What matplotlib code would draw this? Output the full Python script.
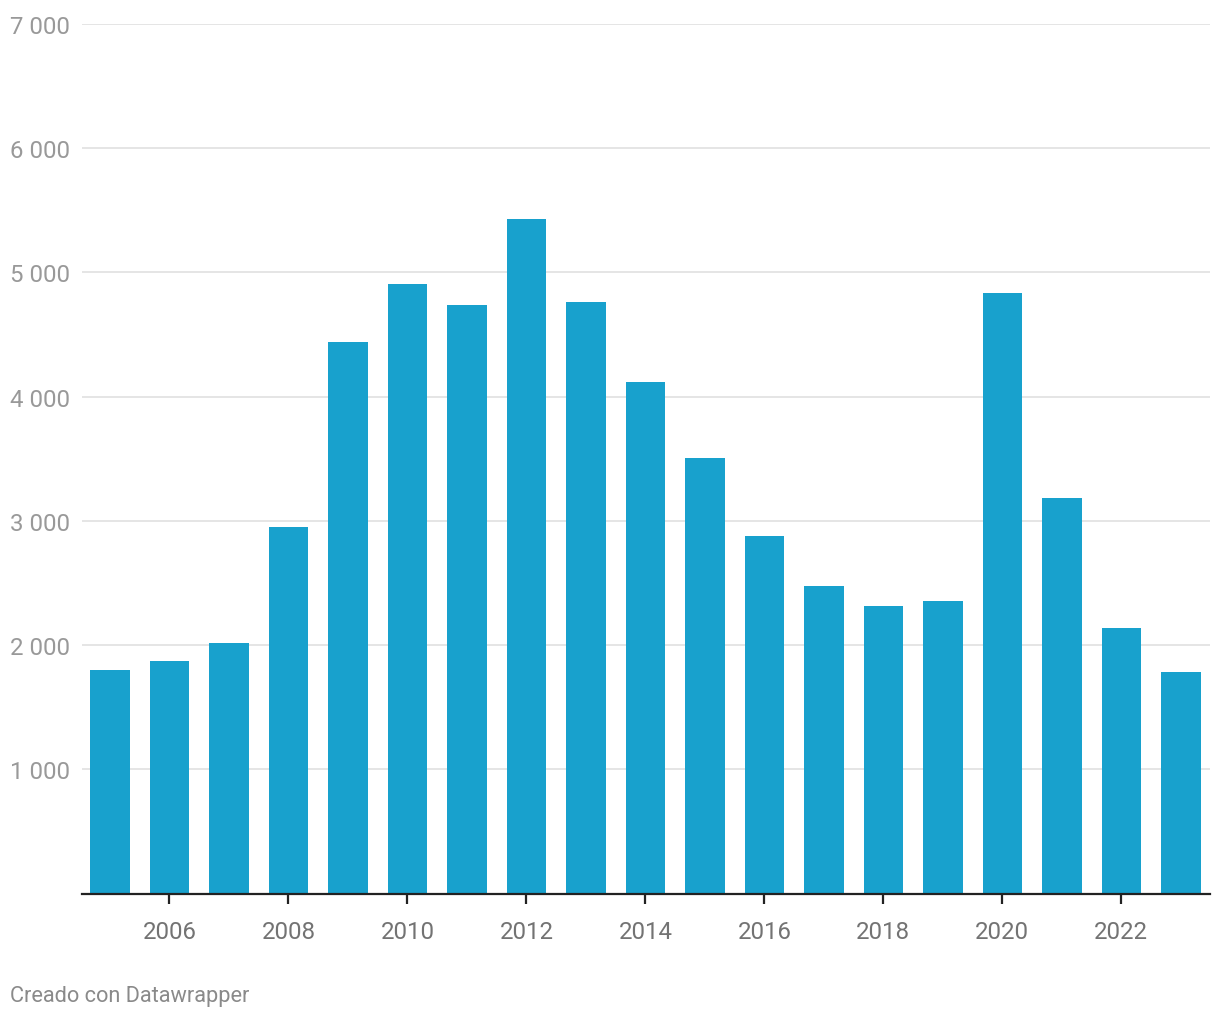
import matplotlib
matplotlib.use("Agg")
import matplotlib.pyplot as plt

years = list(range(2005, 2024))
values = [1800, 1870, 2015, 2950, 4440, 4905, 4740, 5430, 4760, 4115,
          3505, 2875, 2475, 2315, 2355, 4835, 3180, 2135, 1780]
ytick_values = [1000, 2000, 3000, 4000, 5000, 6000, 7000]
xtick_values = [2006, 2008, 2010, 2012, 2014, 2016, 2018, 2020, 2022]
footer = "Creado con Datawrapper"

plt.rcParams['font.family'] = ['Roboto', 'DejaVu Sans']

fig = plt.figure(figsize=(12.2, 10.2), dpi=100)
ax = fig.add_axes([82/1220, (1020-894.5)/1020, (1210-82)/1220, (894.5-25)/1020])

ax.bar(years, values, width=0.665, color='#18a1cd', zorder=3)

ax.set_xlim(2004.53, 2023.49)
ax.set_ylim(0, 7000)

ax.set_yticks(ytick_values)
ax.set_yticklabels([f"{v:,}".replace(",", " ") for v in ytick_values])
ax.tick_params(axis='y', length=0, pad=51.8, labelsize=17.3, labelcolor='#999999')
for lbl in ax.get_yticklabels():
    lbl.set_horizontalalignment('left')
ax.yaxis.grid(True, color='#e5e5e5', linewidth=1.4, zorder=0)

ax.set_xticks(xtick_values)
ax.set_xticklabels([str(v) for v in xtick_values])
ax.tick_params(axis='x', length=7, width=1.6, color='#222222', pad=12,
               labelsize=17.3, labelcolor='#737373')

for s in ['top', 'right', 'left']:
    ax.spines[s].set_visible(False)
ax.spines['bottom'].set_color('#222222')
ax.spines['bottom'].set_linewidth(1.6)
ax.spines['bottom'].set_zorder(4)

fig.text(10/1220, 1 - 997/1020, footer, fontsize=15.7, color='#8a8a8a',
         ha='left', va='center')

fig.savefig('out.png', dpi=100)
